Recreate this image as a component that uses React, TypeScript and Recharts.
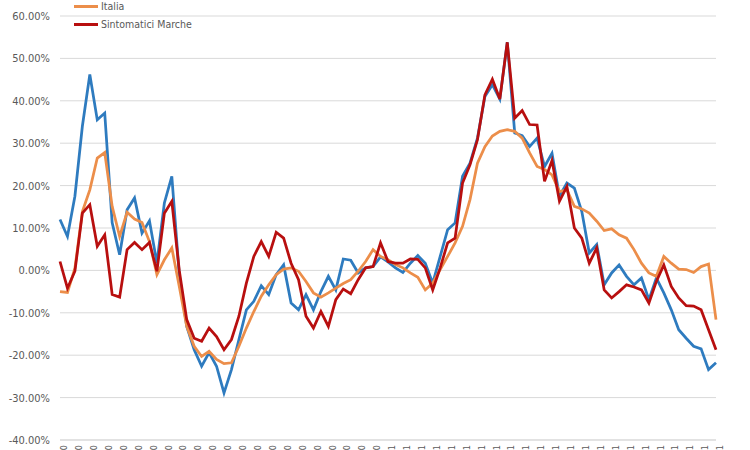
import { LineChart, Line, XAxis, YAxis, CartesianGrid } from "recharts";

// weekly categories (labels are cut off at the bottom of the picture)
function buildWeeks(start: string, count: number): string[] {
  const out: string[] = [];
  const d = new Date(start + "T00:00:00Z");
  for (let i = 0; i < count; i++) {
    const dd = String(d.getUTCDate()).padStart(2, "0");
    const mm = String(d.getUTCMonth() + 1).padStart(2, "0");
    out.push(`${dd}/${mm}/${d.getUTCFullYear()}`);
    d.setUTCDate(d.getUTCDate() + 7);
  }
  return out;
}

const weeks = buildWeeks("2020-03-02", 89);

const marche = [
  12.0, 8.0, 17.5, 34.0, 46.2, 35.5, 37.1, 11.2, 3.7, 14.3,
  17.1, 8.8, 11.7, 1.7, 15.9, 22.2, -1.0, -13.2, -18.7, -22.6,
  -19.4, -22.6, -28.9, -23.4, -16.3, -9.3, -7.3, -3.6, -5.7, -1.0,
  1.3, -7.7, -9.3, -5.7, -9.3, -5.0, -1.4, -4.6, 2.7, 2.4,
  -0.6, 0.6, 0.9, 3.2, 2.0, 0.6, -0.5, 1.7, 3.5, 1.7,
  -3.0, 3.3, 9.6, 11.2, 22.2, 25.3, 31.2, 41.0, 43.8, 40.4,
  53.8, 32.4, 31.8, 29.2, 31.2, 24.5, 27.6, 17.5, 20.6, 19.4,
  13.9, 4.1, 6.1, -3.4, -0.6, 1.3, -1.4, -3.4, -1.8, -6.9,
  -1.8, -5.3, -9.3, -14.0, -16.0, -17.9, -18.5, -23.4, -21.8,
];

const italia = [
  -5.0, -5.2, 0.5, 13.9, 19.0, 26.5, 27.8, 15.1, 8.0, 13.7,
  12.1, 11.3, 6.8, -1.0, 2.5, 5.3, -3.8, -13.2, -17.9, -20.3,
  -19.1, -21.0, -22.0, -21.8, -17.9, -13.6, -9.7, -6.1, -3.4, -1.0,
  0.3, 0.6, -0.2, -2.6, -5.3, -6.3, -5.3, -4.2, -3.1, -2.2,
  -0.2, 2.1, 4.9, 3.3, 2.5, 1.4, 0.6, -0.6, -1.6, -4.6,
  -3.0, 0.2, 3.3, 6.5, 10.4, 16.7, 25.3, 29.2, 31.7, 32.8,
  33.2, 32.8, 31.2, 27.7, 24.5, 23.8, 22.5, 18.6, 19.0, 15.1,
  14.5, 13.5, 11.6, 9.4, 9.8, 8.4, 7.6, 4.9, 1.7, -0.6,
  -1.4, 3.3, 1.7, 0.3, 0.2, -0.5, 0.9, 1.5, -11.6,
];

const sintomaticiMarche = [
  2.1, -4.2, -0.2, 13.5, 15.5, 5.7, 8.4, -5.7, -6.3, 4.9,
  6.6, 4.9, 6.6, -0.2, 13.5, 16.3, 0.0, -11.6, -16.0, -16.7,
  -13.6, -15.6, -18.7, -16.3, -10.8, -3.0, 3.3, 6.8, 3.3, 9.0,
  7.6, 1.7, -2.2, -10.8, -13.6, -9.7, -13.2, -6.9, -4.4, -5.5,
  -2.2, 0.6, 0.9, 6.5, 2.1, 1.7, 1.7, 2.7, 2.6, 0.6,
  -4.6, 0.6, 6.5, 7.6, 20.6, 24.9, 30.8, 41.4, 45.1, 40.4,
  53.8, 35.9, 37.7, 34.4, 34.3, 21.0, 25.9, 16.3, 19.8, 10.0,
  7.6, 1.7, 5.3, -4.6, -6.5, -5.0, -3.4, -3.9, -4.6, -7.7,
  -2.6, 1.3, -3.8, -6.5, -8.3, -8.4, -9.3, -14.0, -18.7,
];

const yTicks = [-40, -30, -20, -10, 0, 10, 20, 30, 40, 50, 60];

const data = weeks.map((w, i) => ({
  week: w,
  marche: marche[i],
  italia: italia[i],
  sintomatici: sintomaticiMarche[i],
}));

const FONT = "'Liberation Sans Narrow', 'DejaVu Sans Condensed', 'Liberation Sans', sans-serif";
const BLUE = "#2E7BBF";
const ORANGE = "#EC8E4A";
const RED = "#B80F0F";

const legendItems = [
  { label: "Italia", color: ORANGE },
  { label: "Sintomatici Marche", color: RED },
];

function LegendBox() {
  return (
    <div
      style={{
        position: "absolute",
        top: -3,
        left: 74,
        fontFamily: FONT,
        fontSize: 10.5,
        color: "#595959",
      }}
    >
      {legendItems.map((it) => (
        <div key={it.label} style={{ height: 18, display: "flex", alignItems: "center" }}>
          <span style={{ display: "inline-block", width: 24, height: 3, background: it.color, marginRight: 3 }} />
          <span>{it.label}</span>
        </div>
      ))}
    </div>
  );
}

function DateTick(props: any) {
  const { x, y, payload } = props;
  const tx = x + 4;
  return (
    <text
      x={tx}
      y={y}
      transform={`rotate(-90, ${tx}, ${y})`}
      textAnchor="end"
      dy="0.35em"
      fontSize={9}
      fontFamily={FONT}
      fill="#595959"
    >
      {payload.value}
    </text>
  );
}

export default function App() {
  return (
    <div
      style={{
        position: "absolute",
        left: 0,
        top: 0,
        width: 750,
        height: 450,
        overflow: "hidden",
        background: "#fff",
      }}
    >
      <LineChart width={750} height={450} data={data} margin={{ top: 16, right: 34, left: 0, bottom: 0 }}>
        <CartesianGrid vertical={false} stroke="#d9d9d9" />
        <XAxis
          dataKey="week"
          interval={1}
          height={10}
          tickLine={false}
          tickSize={0}
          tickMargin={5}
          axisLine={{ stroke: "#d9d9d9" }}
          tick={<DateTick />}
        />
        <YAxis
          domain={[-40, 60]}
          ticks={yTicks}
          width={60}
          axisLine={false}
          tickLine={false}
          tickSize={0}
          tickMargin={10}
          tickFormatter={(v: number) => `${v.toFixed(2)}%`}
          tick={{ fontSize: 11, fill: "#595959", fontFamily: FONT }}
        />
        <Line dataKey="marche" name="Marche" stroke={BLUE} strokeWidth={2.75} dot={false} isAnimationActive={false} />
        <Line dataKey="italia" name="Italia" stroke={ORANGE} strokeWidth={2.75} dot={false} isAnimationActive={false} />
        <Line
          dataKey="sintomatici"
          name="Sintomatici Marche"
          stroke={RED}
          strokeWidth={2.75}
          dot={false}
          isAnimationActive={false}
        />
      </LineChart>
      <LegendBox />
    </div>
  );
}
